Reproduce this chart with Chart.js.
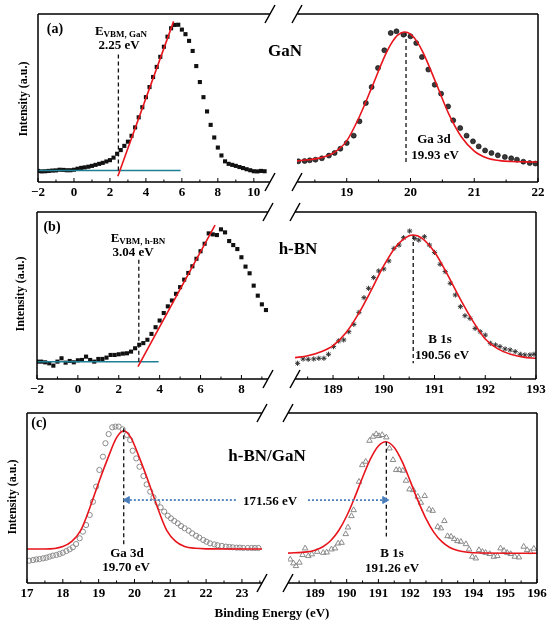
<!DOCTYPE html>
<html lang="en">
<head>
<meta charset="UTF-8">
<title>VBM and core level spectra of GaN, h-BN and h-BN/GaN</title>
<script src="https://cdn.jsdelivr.net/npm/chart.js"></script>
<style>
    body { margin: 0; background: #fff; }
    #fig { position: relative; width: 550px; height: 623px; overflow: hidden; background: #fff; }
    canvas { position: absolute; }
    .t {
        position: absolute;
        transform: translate(-50%, -50%);
        font-family: 'Liberation Serif', 'Times New Roman', serif;
        font-weight: bold;
        font-size: 13px;
        line-height: 1;
        white-space: nowrap;
        color: #000;
    }
    .t sub { font-size: 9px; vertical-align: -2px; }
    .big { font-size: 17px; }
    .yt { font-size: 12px; transform: translate(-50%, -50%) rotate(-90deg); }
</style>
</head>
<body>
<div id="fig">
    <canvas id="aL"></canvas>
    <canvas id="aR"></canvas>
    <canvas id="bL"></canvas>
    <canvas id="bR"></canvas>
    <canvas id="cL"></canvas>
    <canvas id="cR"></canvas>

    <div class="t yt" style="left:23px;top:99px">Intensity (a.u.)</div>
    <div class="t yt" style="left:20px;top:294px">Intensity (a.u.)</div>
    <div class="t yt" style="left:12px;top:497px">Intensity (a.u.)</div>
    <div class="t" style="left:272px;top:612px">Binding Energy (eV)</div>

    <div class="t" style="left:55px;top:29px;font-size:14px">(a)</div>
    <div class="t" style="left:121px;top:31px">E<sub>VBM, GaN</sub></div>
    <div class="t" style="left:119px;top:44px">2.25 eV</div>
    <div class="t big" style="left:285px;top:50px">GaN</div>
    <div class="t" style="left:434px;top:138px">Ga 3d</div>
    <div class="t" style="left:435px;top:154px">19.93 eV</div>

    <div class="t" style="left:52px;top:227px;font-size:14px">(b)</div>
    <div class="t" style="left:138px;top:238px">E<sub>VBM, h-BN</sub></div>
    <div class="t" style="left:133px;top:251px">3.04 eV</div>
    <div class="t big" style="left:298px;top:248px">h-BN</div>
    <div class="t" style="left:440px;top:338px">B 1s</div>
    <div class="t" style="left:442px;top:354px">190.56 eV</div>

    <div class="t" style="left:39px;top:423px;font-size:14px">(c)</div>
    <div class="t big" style="left:267px;top:455px">h-BN/GaN</div>
    <div class="t" style="left:270px;top:500px">171.56 eV</div>
    <div class="t" style="left:127px;top:552px">Ga 3d</div>
    <div class="t" style="left:126px;top:566px">19.70 eV</div>
    <div class="t" style="left:392px;top:552px">B 1s</div>
    <div class="t" style="left:392px;top:567px">191.26 eV</div>
</div>

<script>
    // ---- data, [binding energy, intensity (arb.)] ----

    // (a) GaN valence band
    const gaNVbPoints = [
        [-2.0, 6.6], [-1.8, 6.3], [-1.6, 6.4], [-1.4, 6.6], [-1.2, 6.8], [-1.0, 6.9], [-0.8, 7.3],
        [-0.6, 7.2], [-0.4, 7.0], [-0.2, 7.0], [0.0, 7.3], [0.2, 7.9], [0.4, 8.4], [0.6, 8.7],
        [0.8, 9.1], [1.0, 9.6], [1.2, 10.2], [1.4, 10.8], [1.6, 11.4], [1.8, 12.2], [2.0, 13.0],
        [2.2, 14.5], [2.4, 16.8], [2.6, 19.0], [2.8, 21.5], [3.0, 24.0], [3.2, 27.5], [3.4, 32.5],
        [3.6, 38.5], [3.8, 44.5], [4.0, 50.5], [4.2, 56.5], [4.4, 62.5], [4.6, 68.5], [4.8, 74.5],
        [5.0, 80.5], [5.2, 86.5], [5.4, 91.5], [5.6, 93.5], [5.8, 93.6], [6.0, 90.7], [6.2, 88.0],
        [6.4, 84.0], [6.6, 78.0], [6.8, 69.0], [7.0, 59.5], [7.2, 50.5], [7.4, 42.0], [7.6, 34.0],
        [7.8, 26.5], [8.0, 20.5], [8.2, 15.8], [8.4, 12.3], [8.6, 10.8], [8.8, 10.2], [9.0, 9.6],
        [9.2, 8.9], [9.4, 8.3], [9.6, 7.6], [9.8, 7.0], [10.0, 6.4], [10.2, 6.3], [10.4, 6.6], [10.6, 6.4]
    ];
    const gaNEdgeLine = [[2.44, 3.4], [5.54, 95.6]];
    const gaNBaseLine = [[-2.0, 6.9], [5.93, 6.9]];
    const gaNVbmMark = [[2.47, 6.9], [2.47, 76.8]];

    // (a) GaN Ga 3d
    const gaNGa3dPoints = [
        [18.24, 12.3], [18.34, 12.5], [18.42, 12.9], [18.51, 13.3], [18.61, 14.1], [18.72, 15.7],
        [18.81, 17.3], [18.90, 19.8], [19.00, 23.2], [19.11, 27.6], [19.20, 36.1], [19.30, 47.0],
        [19.39, 56.5], [19.49, 67.9], [19.59, 78.4], [19.69, 88.7], [19.78, 89.7], [19.89, 87.7],
        [20.00, 86.7], [20.09, 82.7], [20.18, 74.4], [20.28, 66.9], [20.38, 57.9], [20.48, 52.6],
        [20.59, 45.0], [20.67, 36.7], [20.78, 32.1], [20.88, 27.6], [20.98, 24.2], [21.07, 21.2],
        [21.17, 18.8], [21.27, 17.3], [21.37, 15.9], [21.48, 14.9], [21.58, 14.1], [21.67, 13.3],
        [21.77, 12.1], [21.87, 11.3], [21.96, 11.0]
    ];
    const gaNGa3dFit = [
        [18.22, 12.6], [18.4, 13.2], [18.6, 14.5], [18.8, 17.5], [19.0, 24.5], [19.2, 39.0],
        [19.4, 56.9], [19.6, 75.2], [19.7, 82.5], [19.8, 87.4], [19.91, 89.3], [20.0, 88.0],
        [20.1, 83.7], [20.2, 76.9], [20.4, 58.9], [20.6, 40.6], [20.8, 26.8], [21.0, 18.4],
        [21.2, 14.3], [21.4, 12.7], [21.6, 12.2], [21.8, 12.0], [22.0, 11.9]
    ];
    const gaNGa3dMark = [[19.93, 89.3], [19.93, 10.9]];

    // (b) h-BN valence band
    const hbnVbPoints = [
        [-2.0, 10.4], [-1.8, 10.4], [-1.6, 10.0], [-1.4, 9.4], [-1.2, 8.0], [-1.0, 10.4], [-0.8, 12.4],
        [-0.6, 9.8], [-0.4, 10.8], [-0.2, 10.0], [0.0, 11.2], [0.2, 11.4], [0.4, 13.4], [0.6, 11.4],
        [0.8, 10.4], [1.0, 12.0], [1.2, 12.0], [1.4, 12.8], [1.6, 14.4], [1.8, 14.4], [2.0, 14.8],
        [2.2, 15.2], [2.4, 15.4], [2.6, 16.4], [2.8, 18.4], [3.0, 20.5], [3.2, 21.5], [3.4, 23.5],
        [3.6, 27.0], [3.8, 31.0], [4.0, 35.0], [4.2, 39.5], [4.4, 43.5], [4.6, 47.0], [4.8, 51.0],
        [5.0, 55.0], [5.2, 59.5], [5.4, 63.5], [5.6, 67.5], [5.8, 72.0], [6.0, 76.5], [6.2, 81.0],
        [6.4, 87.2], [6.6, 86.6], [6.8, 86.2], [7.0, 89.6], [7.2, 87.8], [7.4, 82.6], [7.6, 80.2],
        [7.8, 77.8], [8.0, 72.9], [8.2, 67.3], [8.4, 63.3], [8.6, 55.9], [8.8, 49.9], [9.0, 44.7],
        [9.2, 41.3]
    ];
    const hbnEdgeLine = [[2.94, 7.4], [6.71, 92.2]];
    const hbnBaseLine = [[-2.0, 10.4], [3.95, 10.4]];
    const hbnVbmMark = [[2.98, 10.4], [2.98, 72.3]];

    // (b) h-BN B 1s
    const hbnB1sPoints = [
        [188.30, 9.4], [188.41, 12.0], [188.51, 11.8], [188.62, 12.0], [188.72, 12.4], [188.82, 12.4],
        [188.91, 14.8], [189.01, 19.4], [189.11, 22.8], [189.21, 23.4], [189.31, 28.3], [189.41, 32.7],
        [189.51, 39.9], [189.61, 48.7], [189.70, 54.3], [189.80, 60.7], [189.90, 64.7], [190.00, 65.9],
        [190.10, 70.7], [190.20, 78.2], [190.30, 80.2], [190.39, 84.6], [190.51, 88.6], [190.61, 84.2],
        [190.69, 83.2], [190.80, 85.2], [190.90, 80.2], [191.00, 75.8], [191.11, 68.7], [191.21, 64.3],
        [191.31, 57.3], [191.41, 50.3], [191.51, 43.3], [191.60, 37.9], [191.70, 36.3], [191.80, 30.3],
        [191.90, 28.3], [192.00, 26.3], [192.10, 21.4], [192.20, 20.4], [192.29, 19.4], [192.39, 18.0],
        [192.49, 17.4], [192.59, 16.4], [192.69, 14.8], [192.78, 14.4], [192.88, 14.4], [192.96, 14.8]
    ];
    const hbnB1sFit = [
        [188.25, 12.8], [188.5, 13.9], [188.75, 16.2], [189.0, 20.0], [189.25, 27.5], [189.5, 39.0],
        [189.75, 53.0], [190.0, 67.9], [190.25, 79.7], [190.5, 85.8], [190.58, 86.2], [190.75, 84.4],
        [191.0, 76.0], [191.25, 62.8], [191.5, 48.3], [191.75, 35.0], [192.0, 24.0], [192.25, 18.0],
        [192.5, 14.8], [192.75, 13.1], [193.0, 12.4]
    ];
    const hbnB1sMark = [[190.58, 86.2], [190.58, 9.4]];

    // (c) h-BN/GaN Ga 3d
    const hetGa3dPoints = [
        [17.06, 13.1], [17.17, 13.5], [17.26, 13.9], [17.35, 14.1], [17.45, 14.5], [17.54, 14.9],
        [17.63, 15.5], [17.72, 16.1], [17.82, 16.5], [17.91, 17.1], [18.00, 17.8], [18.10, 18.8],
        [18.19, 19.8], [18.28, 21.0], [18.37, 22.9], [18.47, 26.3], [18.56, 30.2], [18.65, 34.1],
        [18.75, 40.0], [18.84, 47.8], [18.93, 56.7], [19.02, 66.5], [19.12, 74.3], [19.19, 82.2],
        [19.28, 87.6], [19.38, 91.6], [19.47, 92.0], [19.56, 92.0], [19.67, 90.4], [19.79, 87.1],
        [19.88, 84.1], [19.95, 77.8], [20.05, 73.3], [20.14, 68.4], [20.25, 62.9], [20.34, 58.0],
        [20.44, 53.7], [20.53, 50.4], [20.64, 47.3], [20.73, 44.5], [20.83, 42.0], [20.93, 39.6],
        [21.02, 38.0], [21.11, 36.5], [21.21, 35.1], [21.30, 33.5], [21.40, 32.2], [21.51, 30.8],
        [21.61, 29.2], [21.72, 27.8], [21.81, 26.7], [21.92, 25.3], [22.01, 24.3], [22.11, 23.3],
        [22.23, 22.7], [22.32, 22.2], [22.44, 21.8], [22.55, 21.4], [22.65, 21.2], [22.74, 21.0],
        [22.85, 20.8], [22.94, 20.8], [23.04, 20.6], [23.16, 20.6], [23.27, 20.6], [23.36, 20.6],
        [23.46, 20.6]
    ];
    const hetGa3dFit = [
        [17.0, 20.0], [17.5, 20.0], [18.0, 21.5], [18.25, 24.5], [18.5, 31.0], [18.75, 44.0],
        [19.0, 59.0], [19.25, 73.0], [19.5, 85.5], [19.7, 89.6], [19.9, 85.5], [20.15, 73.0],
        [20.4, 59.0], [20.65, 44.0], [20.9, 31.0], [21.15, 24.5], [21.4, 21.5], [21.7, 20.4],
        [22.0, 20.1], [23.56, 20.0]
    ];
    const hetGa3dMark = [[19.7, 91.0], [19.7, 22.4]];
    const hetArrowLeft = [[22.83, 48.8], [19.8, 48.8]];

    // (c) h-BN/GaN B 1s
    const hetB1sPoints = [
        [188.22, 13.9], [188.32, 11.6], [188.40, 10.0], [188.51, 12.0], [188.61, 16.5], [188.69, 20.4],
        [188.79, 15.9], [188.90, 16.9], [189.07, 18.4], [189.26, 17.8], [189.37, 18.0], [189.52, 19.8],
        [189.63, 20.4], [189.73, 23.3], [189.84, 23.7], [189.97, 28.8], [190.04, 32.7], [190.15, 39.4],
        [190.22, 42.9], [190.39, 59.6], [190.49, 69.4], [190.60, 71.4], [190.72, 83.7], [190.83, 86.1],
        [190.93, 87.6], [191.02, 86.5], [191.12, 87.1], [191.25, 85.7], [191.35, 79.2], [191.46, 72.4],
        [191.56, 66.5], [191.66, 66.5], [191.77, 66.1], [191.87, 60.2], [191.98, 55.1], [192.10, 54.7],
        [192.24, 50.8], [192.34, 47.3], [192.46, 51.2], [192.60, 43.3], [192.71, 42.5], [192.87, 33.1],
        [192.97, 32.2], [193.08, 36.5], [193.18, 27.6], [193.29, 27.3], [193.39, 25.9], [193.49, 24.7],
        [193.60, 24.3], [193.76, 22.9], [193.86, 19.8], [193.96, 15.5], [194.07, 14.5], [194.17, 19.4],
        [194.28, 18.4], [194.38, 17.8], [194.51, 17.1], [194.64, 15.5], [194.75, 15.9], [194.85, 20.4],
        [194.96, 19.0], [195.06, 17.8], [195.17, 17.1], [195.30, 15.5], [195.43, 15.1], [195.58, 21.4],
        [195.69, 19.4], [195.79, 18.2], [195.90, 20.2]
    ];
    const hetB1sFit = [
        [188.15, 17.6], [188.75, 18.3], [189.0, 19.3], [189.25, 21.3], [189.5, 25.0], [189.75, 30.9],
        [190.0, 39.4], [190.25, 50.2], [190.5, 62.1], [190.75, 73.0], [191.0, 80.6], [191.23, 83.1],
        [191.5, 79.7], [191.75, 71.4], [192.0, 60.1], [192.25, 48.3], [192.5, 37.9], [192.75, 29.8],
        [193.0, 24.3], [193.25, 20.9], [193.5, 19.1], [193.75, 18.2], [194.0, 17.8], [196.0, 17.5]
    ];
    const hetB1sMark = [[191.25, 83.1], [191.25, 27.3]];
    const hetArrowRight = [[188.78, 48.8], [191.2, 48.8]];

    // ---- styling ----
    const RED = '#e8141c';
    const TEAL = '#1f7f95';
    const ARROW = '#4a7ebb';
    const GREY = '#8a8a8a';
    const tickFont = { family: "'Liberation Serif', 'Times New Roman', serif", weight: 'bold', size: 13 };

    const xy = arr => arr.map(([x, y]) => ({ x, y }));

    function markers(data, style) {
        return Object.assign({ data: xy(data), showLine: false, pointBorderWidth: 1 }, style);
    }

    function line(data, color, width, extra) {
        return Object.assign({
            data: xy(data), showLine: true, pointRadius: 0, fill: false,
            borderColor: color, borderWidth: width
        }, extra || {});
    }

    function fit(data) {
        return line(data, RED, 1.6, { cubicInterpolationMode: 'monotone' });
    }

    function mark(data) {
        return line(data, '#111', 1.3, { borderDash: [4, 3] });
    }

    function arrow(data, dir) {
        return line(data, ARROW, 1.8, {
            borderDash: [2, 2],
            pointRadius: [0, 4],
            pointStyle: 'triangle',
            pointRotation: dir,
            pointBackgroundColor: ARROW,
            pointBorderColor: ARROW,
            pointBorderWidth: 1
        });
    }

    // frame, axis break marks and inward ticks
    const framePlugin = {
        id: 'frame',
        afterDraw(chart, args, opts) {
            const { ctx, chartArea: a } = chart;
            const x = chart.scales.x;
            ctx.save();
            ctx.strokeStyle = '#000';
            ctx.lineWidth = 1.5;
            ctx.beginPath();
            ctx.moveTo(a.left, a.top); ctx.lineTo(a.right, a.top);
            ctx.moveTo(a.left, a.bottom); ctx.lineTo(a.right, a.bottom);
            const edge = opts.side === 'left' ? a.left : a.right;
            ctx.moveTo(edge, a.top); ctx.lineTo(edge, a.bottom);
            const bx = opts.side === 'left' ? a.right : a.left;
            [a.top, a.bottom].forEach(y => {
                ctx.moveTo(bx - 5, y + 9);
                ctx.lineTo(bx + 5, y - 9);
            });
            ctx.stroke();

            ctx.lineWidth = 1;
            ctx.beginPath();
            const n0 = Math.ceil(x.min / opts.minor - 1e-6);
            const n1 = Math.floor(x.max / opts.minor + 1e-6);
            for (let n = n0; n <= n1; n++) {
                const v = n * opts.minor;
                const r = v / opts.major;
                const len = Math.abs(r - Math.round(r)) < 1e-6 ? 4 : 2.5;
                const px = x.getPixelForValue(v);
                ctx.moveTo(px, a.bottom);
                ctx.lineTo(px, a.bottom - len);
            }
            ctx.stroke();
            ctx.restore();
        }
    };

    function makePanel(id, box, side, xMin, xMax, major, minor, datasets) {
        const pad = 16, padTop = 12, axisH = 22;
        const canvas = document.getElementById(id);
        canvas.width = box.w + 2 * pad;
        canvas.height = box.h + padTop + axisH;
        canvas.style.left = (box.x - pad) + 'px';
        canvas.style.top = (box.y - padTop) + 'px';

        new Chart(canvas, {
            type: 'scatter',
            data: { datasets: datasets },
            options: {
                responsive: false,
                animation: false,
                layout: { padding: { left: pad, right: pad, top: padTop, bottom: 0 } },
                plugins: {
                    legend: { display: false },
                    tooltip: { enabled: false },
                    frame: { side: side, major: major, minor: minor }
                },
                scales: {
                    x: {
                        type: 'linear',
                        min: xMin,
                        max: xMax,
                        afterFit: s => { s.height = axisH; },
                        grid: { display: false, drawTicks: false },
                        border: { display: false },
                        ticks: {
                            stepSize: major,
                            includeBounds: false,
                            autoSkip: false,
                            maxRotation: 0,
                            padding: 3,
                            color: '#000',
                            font: tickFont,
                            callback: v => String(Math.round(v)).replace('-', '\u2212')
                        }
                    },
                    y: { display: false, min: 0, max: 100 }
                }
            },
            plugins: [framePlugin]
        });
    }

    const squares = { pointStyle: 'rect', pointRadius: 2.9, pointBackgroundColor: '#111', pointBorderColor: '#111', pointBorderWidth: 0 };

    makePanel('aL', { x: 38, y: 14, w: 232, h: 168 }, 'left', -2, 10.9, 2, 1, [
        line(gaNEdgeLine, RED, 1.6),
        mark(gaNVbmMark),
        line(gaNBaseLine, TEAL, 1.5),
        markers(gaNVbPoints, squares)
    ]);

    makePanel('aR', { x: 297, y: 14, w: 241, h: 168 }, 'right', 18.22, 22, 1, 0.5, [
        fit(gaNGa3dFit),
        mark(gaNGa3dMark),
        markers(gaNGa3dPoints, { pointStyle: 'circle', pointRadius: 2.5, pointBackgroundColor: '#3a3a3a', pointBorderColor: '#000', pointBorderWidth: 0.6 })
    ]);

    makePanel('bL', { x: 37, y: 212, w: 231, h: 167 }, 'left', -2, 9.3, 2, 1, [
        line(hbnEdgeLine, RED, 1.6),
        mark(hbnVbmMark),
        line(hbnBaseLine, TEAL, 1.5),
        markers(hbnVbPoints, squares)
    ]);

    makePanel('bR', { x: 295, y: 212, w: 241, h: 167 }, 'right', 188.25, 193, 1, 0.5, [
        fit(hbnB1sFit),
        mark(hbnB1sMark),
        markers(hbnB1sPoints, { pointStyle: 'star', pointRadius: 2.6, pointBorderColor: '#333', pointBorderWidth: 1 })
    ]);

    makePanel('cL', { x: 27, y: 413, w: 235, h: 170 }, 'left', 17, 23.56, 1, 0.5, [
        arrow(hetArrowLeft, -90),
        mark(hetGa3dMark),
        fit(hetGa3dFit),
        markers(hetGa3dPoints, { pointStyle: 'circle', pointRadius: 2.6, pointBackgroundColor: 'rgba(255,255,255,0)', pointBorderColor: GREY, pointBorderWidth: 1 })
    ]);

    makePanel('cR', { x: 288, y: 413, w: 249, h: 170 }, 'right', 188.15, 196, 1, 0.5, [
        arrow(hetArrowRight, 90),
        mark(hetB1sMark),
        fit(hetB1sFit),
        markers(hetB1sPoints, { pointStyle: 'triangle', pointRadius: 3.2, pointBackgroundColor: 'rgba(255,255,255,0)', pointBorderColor: GREY, pointBorderWidth: 1 })
    ]);
</script>
</body>
</html>
